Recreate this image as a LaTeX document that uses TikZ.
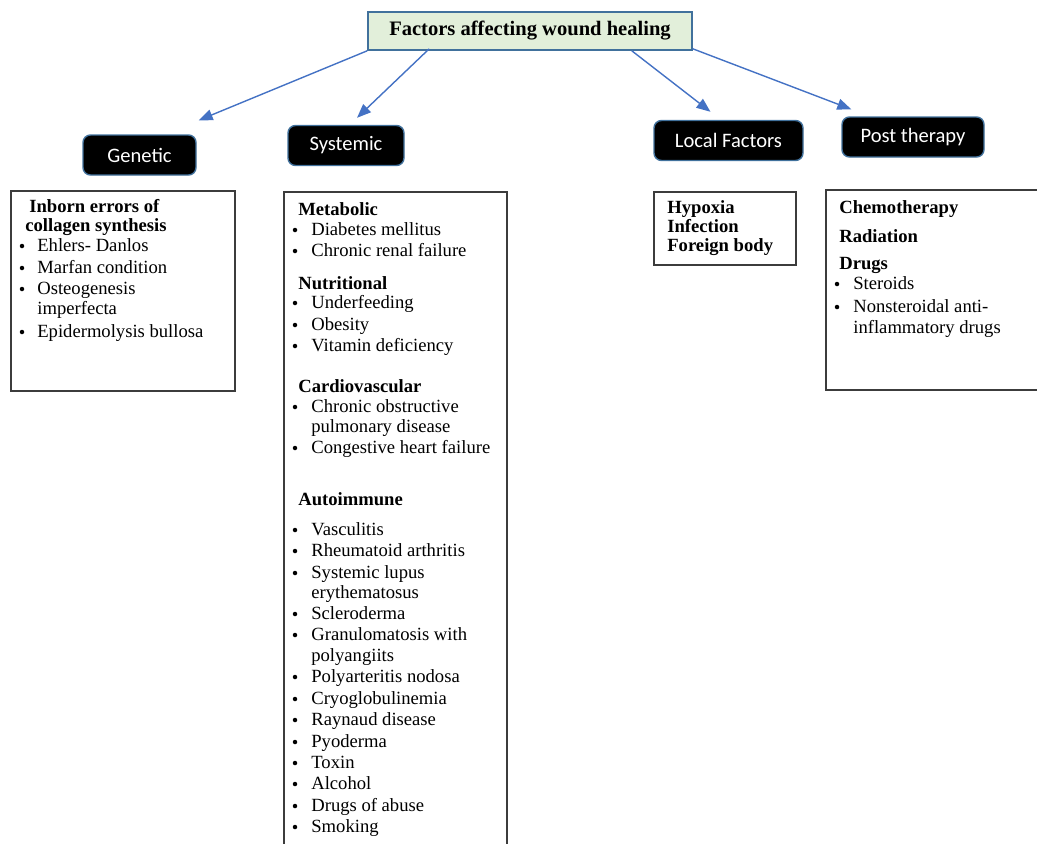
\documentclass[tikz,border=0pt]{standalone}
\usepackage{fontspec}
\setmainfont{Liberation Serif}
\newfontfamily\calfont{Carlito}
\usetikzlibrary{arrows.meta,calc,positioning}

\definecolor{headfill}{RGB}{226,239,218}
\definecolor{headline}{RGB}{65,113,156}
\definecolor{linkblue}{RGB}{68,114,196}
\definecolor{boxline}{RGB}{60,60,60}

\tikzset{
  titlebox/.style={draw=headline, fill=headfill, line width=0.9pt, inner sep=0pt,
    minimum width=324*\px, minimum height=38*\px, font=\fontsize{11.7}{14}\selectfont\bfseries},
  catbox/.style={draw=headline, fill=black, text=white, line width=0.8pt, inner sep=0pt,
    rounded corners=0.15cm, minimum height=40*\px, font=\calfont\fontsize{11.7}{14}\selectfont},
  listbox/.style={draw=boxline, line width=0.7pt, inner sep=0pt},
  txt/.style={anchor=west, inner sep=0pt, text height=1.5ex, text depth=.25ex,
    font=\fontsize{10.6}{12}\selectfont},
  hd/.style={txt, font=\fontsize{10.6}{12}\selectfont\bfseries},
  dot/.style={circle, fill=black, inner sep=0pt, minimum size=4.5*\px},
  link/.style={draw=linkblue, line width=0.8pt, -{Triangle[length=2.8mm, width=2.2mm]}}
}

\begin{document}
\begin{tikzpicture}[x=0.02cm, y=-0.02cm]
    % one unit is one pixel of the page
    \def\px{0.02cm}
    \useasboundingbox (0,0) rectangle (1037,843);

    % Title and the four groups
    \node[titlebox] (title) at (530,31) {Factors affecting wound healing};
    \node[catbox, minimum width=113*\px] (gen) at (139.5,155) {Genetic};
    \node[catbox, minimum width=116*\px] (sys) at (346,145.5) {Systemic};
    \node[catbox, minimum width=149*\px] (loc) at (728.5,140.5) {Local Factors};
    \node[catbox, minimum width=142*\px] (post) at (913,137) {Post therapy};

    % Arrows from the title
    \draw[link] (title.south west) -- ($(gen.north east)+(2,-14)$);
    \draw[link] ($(title.south west)+(62,-2)$) -- ($(sys.north)+(11,-7)$);
    \draw[link] ($(title.south east)+(-61,0)$) -- ($(loc.north)+(-18,-8)$);
    \draw[link] ($(title.south east)+(0,-2)$) -- ($(post.north west)+(10,-7)$);

    % Boxes under the groups
    \node[listbox, minimum width=224*\px, minimum height=200*\px] (genlist) at (123,291) {};
    \draw[boxline, line width=0.7pt] (284,845) -- (284,192) -- (507,192) -- (507,845);
    \node[listbox, minimum width=142*\px, minimum height=73*\px] (loclist) at (725,228.5) {};
    \draw[boxline, line width=0.7pt] (1040,190) -- (826,190) -- (826,390) -- (1040,390);

    % Genetic
    \node[hd] (gen1) at (29,207) {Inborn errors of};
    \node[hd] (gen2) at (25,226) {collagen synthesis};
    \foreach \t/\y [count=\i] in {Ehlers- Danlos/246, Marfan condition/268,
        Osteogenesis/289, Epidermolysis bullosa/332} {
      \node[dot] (genb\i) at (22,\y) {};
      \node[txt] (geni\i) at (37,\y) {\t};
    }
    \node[txt] (genc1) at (37,309) {imperfecta};

    % Systemic
    \node[hd] (met) at (298,210) {Metabolic};
    \node[hd] (nut) at (298,284) {Nutritional};
    \node[hd] (car) at (298,387) {Cardiovascular};
    \node[hd] (aut) at (298,500) {Autoimmune};
    \foreach \t/\y [count=\i] in {Diabetes mellitus/230, Chronic renal failure/251,
        Underfeeding/303, Obesity/325, Vitamin deficiency/346,
        Chronic obstructive/407, Congestive heart failure/448,
        Vasculitis/530, Rheumatoid arthritis/551, Systemic lupus/573,
        Scleroderma/614, Granulomatosis with/635, Polyarteritis nodosa/677,
        Cryoglobulinemia/699, Raynaud disease/720, Pyoderma/742, Toxin/763,
        Alcohol/784, Drugs of abuse/806, Smoking/827} {
      \node[dot] (sysb\i) at (295,\y) {};
      \node[txt] (sysi\i) at (311,\y) {\t};
    }
    \node[txt] (sysc1) at (311,427) {pulmonary disease};
    \node[txt] (sysc2) at (311,593) {erythematosus};
    \node[txt] (sysc3) at (311,656) {polyangiits};

    % Local factors
    \node[hd] (loc1) at (667,208) {Hypoxia};
    \node[hd] (loc2) at (667,227) {Infection};
    \node[hd] (loc3) at (667,246) {Foreign body};

    % Post therapy
    \node[hd] (pt1) at (839,208) {Chemotherapy};
    \node[hd] (pt2) at (839,237) {Radiation};
    \node[hd] (pt3) at (839,264) {Drugs};
    \node[dot] (ptb1) at (837,284) {};
    \node[txt] (pti1) at (853,284) {Steroids};
    \node[dot] (ptb2) at (837,307) {};
    \node[txt] (pti2) at (853,307) {Nonsteroidal anti-};
    \node[txt] (ptc1) at (853,328) {inflammatory drugs};
\end{tikzpicture}
\end{document}
